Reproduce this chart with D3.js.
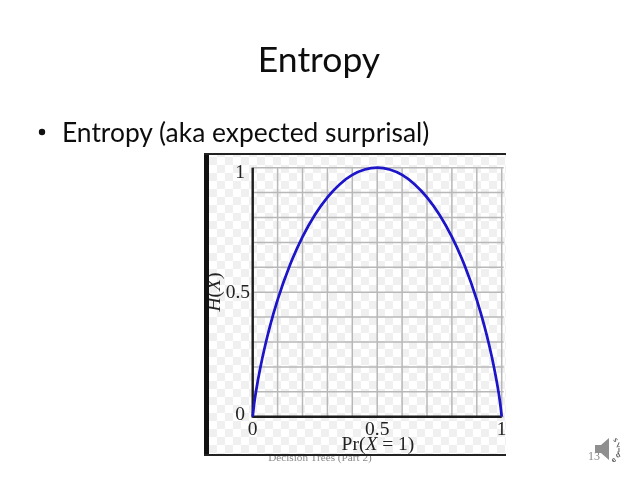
<!DOCTYPE html>
<html><head><meta charset="utf-8">
<script src="https://cdn.jsdelivr.net/npm/d3@7/dist/d3.min.js"></script>
<style>html,body{margin:0;padding:0;background:#fff}svg{display:block}</style>
</head><body><svg id="c" width="638" height="479"></svg>
<script>
const probabilities=[0,0.005,0.01,0.02,0.03,0.05,0.07,0.1,0.15,0.2,0.25,0.3,0.35,0.4,0.45,0.5,0.55,0.6,0.65,0.7,0.75,0.8,0.85,0.9,0.93,0.95,0.97,0.98,0.99,0.995,1];
const entropyValues=[0,0.045,0.081,0.141,0.194,0.286,0.366,0.469,0.61,0.722,0.811,0.881,0.934,0.971,0.993,1,0.993,0.971,0.934,0.881,0.811,0.722,0.61,0.469,0.366,0.286,0.194,0.141,0.081,0.045,0];
const gridTicks=[0,0.1,0.2,0.3,0.4,0.5,0.6,0.7,0.8,0.9,1];
const xTickLabels=[0,0.5,1];
const yTickLabels=[0,0.5,1];
const titleText="Entropy";
const bulletText="Entropy (aka expected surprisal)";
const footerText="Decision Trees (Part 2)";
const pageNumber="13";
const audioLetters=["s","l","i","d","e"];

const svg=d3.select("#c");
const x=d3.scaleLinear().domain([0,1]).range([252.7,501.7]);
const y=d3.scaleLinear().domain([0,1]).range([416.7,167.7]);
const sans="Lato,'Open Sans',sans-serif";
const serif="'Liberation Serif','DejaVu Serif',serif";

const defs=svg.append("defs");
const pat=defs.append("pattern").attr("id","chk").attr("patternUnits","userSpaceOnUse")
  .attr("x",209).attr("y",157).attr("width",16).attr("height",16);
pat.append("rect").attr("width",16).attr("height",16).attr("fill","#fff");
pat.append("rect").attr("width",8).attr("height",8).attr("fill","#f0f0f0");
pat.append("rect").attr("x",8).attr("y",8).attr("width",8).attr("height",8).attr("fill","#f0f0f0");
defs.append("filter").attr("id","soft").attr("x","-5%").attr("y","-5%").attr("width","110%").attr("height","110%")
  .append("feGaussianBlur").attr("stdDeviation",0.6);
defs.append("filter").attr("id","txt").attr("x","-5%").attr("y","-20%").attr("width","110%").attr("height","140%")
  .append("feGaussianBlur").attr("stdDeviation",0.25);
defs.append("clipPath").attr("id","clip").append("rect").attr("x",204).attr("y",153).attr("width",302).attr("height",303);

svg.append("text").attr("x",319).attr("y",72).attr("text-anchor","middle").attr("filter","url(#txt)")
  .attr("font-family",sans).attr("font-size",35.5).attr("fill","#111").text(titleText);
svg.append("circle").attr("cx",42).attr("cy",132).attr("r",3.2).attr("fill","#111");
svg.append("text").attr("x",62).attr("y",142).attr("filter","url(#txt)").attr("font-family",sans).attr("font-size",26.4).attr("fill","#111").text(bulletText);
svg.append("text").attr("x",320).attr("y",461).attr("text-anchor","middle").attr("filter","url(#txt)")
  .attr("font-family",serif).attr("font-size",11.2).attr("fill","#888").text(footerText);
svg.append("text").attr("x",594).attr("y",460).attr("text-anchor","middle").attr("filter","url(#txt)")
  .attr("font-family",serif).attr("font-size",12).attr("fill","#888").text(pageNumber);

// speaker icon
const sp=svg.append("g").attr("filter","url(#soft)");
sp.append("path").attr("d","M595 445H601L609 438V460L601 453H595Z").attr("fill","#8f8f8f");
sp.selectAll("text").data(audioLetters).join("text")
  .attr("transform",(d,i)=>`translate(${[613,616,618,617,614][i]},${[440,447,452,458,463][i]}) rotate(${50-i*25})`)
  .attr("font-family",sans).attr("font-size",7.5).attr("font-weight",700).attr("fill","#555").text(d=>d);

// picture
const g=svg.append("g").attr("clip-path","url(#clip)");
g.append("rect").attr("x",204).attr("y",153).attr("width",302).attr("height",303).attr("fill","url(#chk)");
const p=g.append("g").attr("filter","url(#soft)");
p.selectAll(".v").data(gridTicks).join("line").attr("x1",d=>x(d)).attr("x2",d=>x(d))
  .attr("y1",y(1)).attr("y2",y(0)).attr("stroke","#b8b8b8").attr("stroke-width",1.5);
p.selectAll(".h").data(gridTicks).join("line").attr("x1",x(0)).attr("x2",x(1)+2)
  .attr("y1",d=>y(d)).attr("y2",d=>y(d)).attr("stroke","#b8b8b8").attr("stroke-width",1.5);
p.append("line").attr("x1",x(0)).attr("x2",x(0)).attr("y1",y(1)).attr("y2",y(0)+1).attr("stroke","#1a1a1a").attr("stroke-width",2.4);
p.append("line").attr("x1",x(0)).attr("x2",x(1)).attr("y1",y(0)).attr("y2",y(0)).attr("stroke","#1a1a1a").attr("stroke-width",2.4);
p.append("path").datum(probabilities.map((d,i)=>[d,entropyValues[i]]))
  .attr("d",d3.line().x(d=>x(d[0])).y(d=>y(d[1])).curve(d3.curveMonotoneX))
  .attr("fill","none").attr("stroke","#1a12c8").attr("stroke-width",2.7);
const labs=g.append("g").attr("filter","url(#txt)").attr("font-family",serif).attr("fill","#222").attr("font-size",19.5);
labs.selectAll(".xt").data(xTickLabels).join("text").attr("x",d=>x(d)).attr("y",435).attr("text-anchor","middle").text(d=>d);
labs.selectAll(".yt").data(yTickLabels).join("text").attr("x",d=>d===0.5?250:245).attr("y",d=>d===1?178:d===0?420:298).attr("text-anchor","end").text(d=>d);
const xl=labs.append("text").attr("x",378).attr("y",450).attr("text-anchor","middle");
xl.append("tspan").text("Pr(");xl.append("tspan").attr("font-style","italic").text("X");xl.append("tspan").text(" = 1)");
const yl=labs.append("text").attr("transform","translate(220,292) rotate(-90)").attr("text-anchor","middle");
yl.append("tspan").attr("font-style","italic").text("H");yl.append("tspan").text("(");yl.append("tspan").attr("font-style","italic").text("X");yl.append("tspan").text(")");
g.append("rect").attr("x",204).attr("y",153).attr("width",5).attr("height",303).attr("fill","#111");
g.append("rect").attr("x",204).attr("y",153).attr("width",302).attr("height",2).attr("fill","#222");
g.append("rect").attr("x",204).attr("y",454).attr("width",302).attr("height",2).attr("fill","#222");
</script></body></html>
